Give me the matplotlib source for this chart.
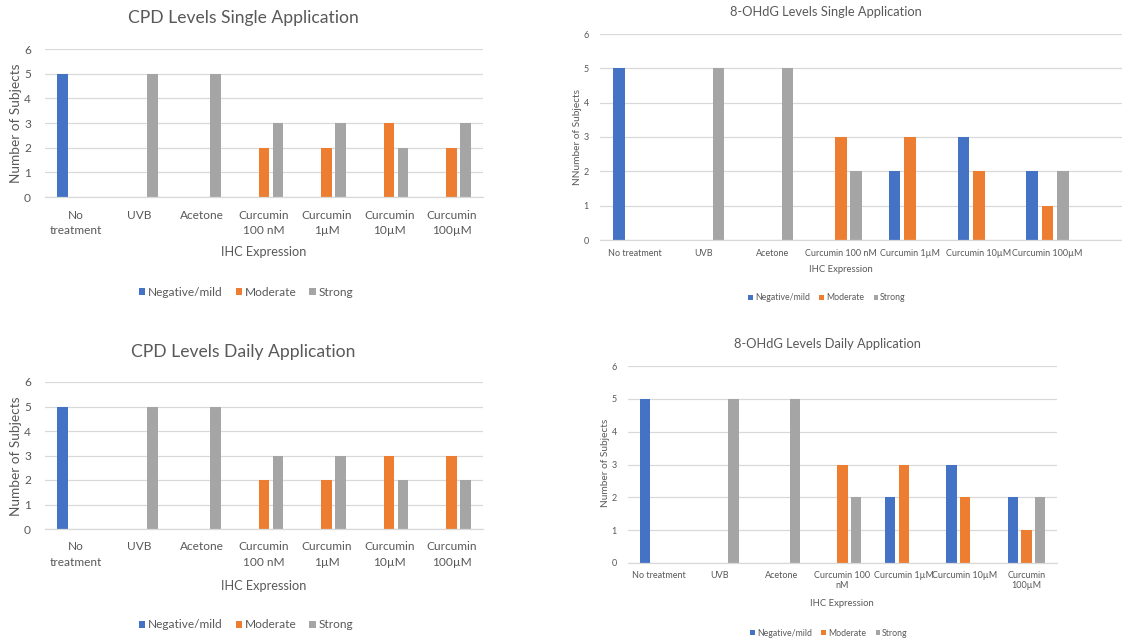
import matplotlib.pyplot as plt
import numpy as np

W, H = 1122, 641

# Data
cpd_labels = ["No\ntreatment", "UVB", "Acetone", "Curcumin\n100 nM",
              "Curcumin\n1µM", "Curcumin\n10µM", "Curcumin\n100µM"]
ohdg_single_labels = ["No treatment", "UVB", "Acetone", "Curcumin 100 nM",
                      "Curcumin 1µM", "Curcumin 10µM", "Curcumin 100µM"]
ohdg_daily_labels = ["No treatment", "UVB", "Acetone", "Curcumin 100\nnM",
                     "Curcumin 1µM", "Curcumin 10µM", "Curcumin\n100µM"]
series_names = ["Negative/mild", "Moderate", "Strong"]

cpd_single_neg = [5, 0, 0, 0, 0, 0, 0]
cpd_single_mod = [0, 0, 0, 2, 2, 3, 2]
cpd_single_str = [0, 5, 5, 3, 3, 2, 3]

cpd_daily_neg = [5, 0, 0, 0, 0, 0, 0]
cpd_daily_mod = [0, 0, 0, 2, 2, 3, 3]
cpd_daily_str = [0, 5, 5, 3, 3, 2, 2]

ohdg_single_neg = [5, 0, 0, 0, 2, 3, 2]
ohdg_single_mod = [0, 0, 0, 3, 3, 2, 1]
ohdg_single_str = [0, 5, 5, 2, 0, 0, 2]

ohdg_daily_neg = [5, 0, 0, 0, 2, 3, 2]
ohdg_daily_mod = [0, 0, 0, 3, 3, 2, 1]
ohdg_daily_str = [0, 5, 5, 2, 0, 0, 2]

colors = ["#4472C4", "#ED7D31", "#A5A5A5"]
text_color = "#595959"
grid_color = "#D9D9D9"

plt.rcParams["font.family"] = ["Lato", "DejaVu Sans"]


def fx(x):
    return x / W


def fy(y):
    return 1 - y / H


def draw_panel(fig, box, series, labels, title, ylabel, fs, pos, xmax=6.5):
    x0, y0, x1, y1 = box
    ax = fig.add_axes([fx(x0), fy(y1), (x1 - x0) / W, (y1 - y0) / H])
    x = np.arange(len(labels))
    width = 0.17
    step = 0.222
    for i, (vals, name, c) in enumerate(zip(series, series_names, colors)):
        vals = np.array(vals, dtype=float)
        ax.bar(x + (i - 1) * step, vals, width, color=c, label=name,
               linewidth=0)
    ax.set_xlim(-0.5, xmax)
    ax.set_ylim(0, 6)
    ax.set_yticks(range(7))
    ax.set_xticks(x)
    ax.set_xticklabels(labels, linespacing=pos["ls"], va="top")
    ax.tick_params(axis="both", length=0, colors=text_color,
                   labelsize=fs["tick"])
    ax.tick_params(axis="x", pad=pos["xpad"])
    ax.tick_params(axis="y", pad=pos["ypad"])
    ax.grid(axis="y", color=grid_color, linewidth=0.9)
    ax.set_axisbelow(True)
    for s in ["top", "left", "right"]:
        ax.spines[s].set_visible(False)
    ax.spines["bottom"].set_color(grid_color)
    ax.spines["bottom"].set_linewidth(0.9)
    tx, ty = pos["title"]
    fig.text(fx(tx), fy(ty), title, ha="center", va="center",
             fontsize=fs["title"], color=text_color)
    lx, ly = pos["xlabel"]
    fig.text(fx(lx), fy(ly), "IHC Expression", ha="center", va="center",
             fontsize=fs["xlabel"], color=text_color)
    yx, yy = pos["ylabel"]
    fig.text(fx(yx), fy(yy), ylabel, ha="center", va="center",
             rotation=90, fontsize=fs["ylabel"], color=text_color)
    gx, gy = pos["legend"]
    fig.legend(*ax.get_legend_handles_labels(), loc="center",
               bbox_to_anchor=(fx(gx), fy(gy)), ncol=3, frameon=False,
               fontsize=fs["legend"], handlelength=0.55,
               handleheight=0.55, handletextpad=0.2,
               columnspacing=1.1, labelcolor=text_color)
    return ax


fig = plt.figure(figsize=(W / 100, H / 100), dpi=100)

big = {"tick": 8.6, "xlabel": 9.2, "ylabel": 9.8, "title": 12.6,
       "legend": 8.6}
small = {"tick": 6.5, "xlabel": 6.8, "ylabel": 7.3, "title": 9.3,
         "legend": 6.3}

draw_panel(fig, (45, 49, 483, 197),
           [cpd_single_neg, cpd_single_mod, cpd_single_str], cpd_labels,
           "CPD Levels Single Application", "Number of Subjects", big,
           {"title": (243, 18), "xlabel": (264, 252), "ylabel": (16, 123),
            "legend": (246, 292), "xpad": 9, "ypad": 10, "ls": 1.45})

draw_panel(fig, (600, 34, 1122, 240),
           [ohdg_single_neg, ohdg_single_mod, ohdg_single_str],
           ohdg_single_labels,
           "8-OHdG Levels Single Application", "NNumber of Subjects", small,
           {"title": (826, 12), "xlabel": (841, 269), "ylabel": (577, 137),
            "legend": (827, 298), "xpad": 6.5, "ypad": 8, "ls": 1.3},
           xmax=7.08)

draw_panel(fig, (45, 382, 483, 529),
           [cpd_daily_neg, cpd_daily_mod, cpd_daily_str], cpd_labels,
           "CPD Levels Daily Application", "Number of Subjects", big,
           {"title": (243, 352), "xlabel": (264, 586), "ylabel": (16, 456),
            "legend": (246, 625), "xpad": 9, "ypad": 10, "ls": 1.45})

draw_panel(fig, (628, 366, 1057, 563),
           [ohdg_daily_neg, ohdg_daily_mod, ohdg_daily_str], ohdg_daily_labels,
           "8-OHdG Levels Daily Application", "Number of Subjects", small,
           {"title": (827, 344), "xlabel": (842, 604), "ylabel": (606, 463),
            "legend": (829, 633), "xpad": 5.5, "ypad": 8, "ls": 1.2})

fig.savefig("out.png", dpi=100, facecolor="white")
